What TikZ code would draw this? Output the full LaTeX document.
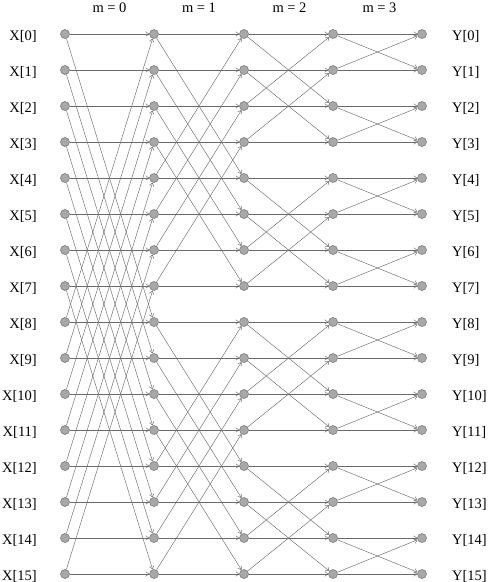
\documentclass[tikz,border=0pt]{standalone}
\usepackage{fontspec}
\setmainfont{Liberation Serif}
\usetikzlibrary{arrows.meta}
\definecolor{nodefill}{HTML}{A8A8A8}
\definecolor{nodeline}{HTML}{707070}
\definecolor{wire}{HTML}{6A6A6A}
\begin{document}
\begin{tikzpicture}[x=1pt,y=-1pt,
  pt/.style={circle,fill=nodefill,draw=nodeline,line width=0.5pt,minimum size=9pt,inner sep=0pt},
  lbl/.style={font=\fontsize{14.5}{16}\selectfont,inner sep=0pt},
  wirearrow/.style={draw=wire,line width=0.45pt,-{To[length=3.5pt,width=5pt]},shorten >=0.2pt}]
\fill[white] (0,0) rectangle (488,582);
\useasboundingbox (0,0) rectangle (488,582);
\def\colx{{65,154,244,333,422}}
\foreach \c in {0,...,4}{
  \foreach \i in {0,...,15}{
    \pgfmathsetmacro{\xx}{\colx[\c]}
    \node[pt] (n\c-\i) at (\xx,34+36*\i) {};
  }
}
\foreach \i in {0,...,15}{
  \node[lbl,anchor=base east] (x\i) at (37,40+36*\i) {X[\i]};
  \node[lbl,anchor=base west] (y\i) at (452,40+36*\i) {Y[\i]};
}
\node[lbl,anchor=base] (m0) at (109.5,12) {m = 0};
\node[lbl,anchor=base] (m1) at (199,12) {m = 1};
\node[lbl,anchor=base] (m2) at (289.5,12) {m = 2};
\node[lbl,anchor=base] (m3) at (379.5,12) {m = 3};
\foreach \s/\d in {0/8,1/4,2/2,3/1}{
  \pgfmathtruncatemacro{\t}{\s+1}
  \foreach \i in {0,...,15}{
    \pgfmathtruncatemacro{\j}{mod(floor(\i/\d),2)==0 ? \i+\d : \i-\d}
    \draw[wirearrow] (n\s-\i) -- (n\t-\i);
    \draw[wirearrow] (n\s-\i) -- (n\t-\j);
  }
}
\end{tikzpicture}
\end{document}
